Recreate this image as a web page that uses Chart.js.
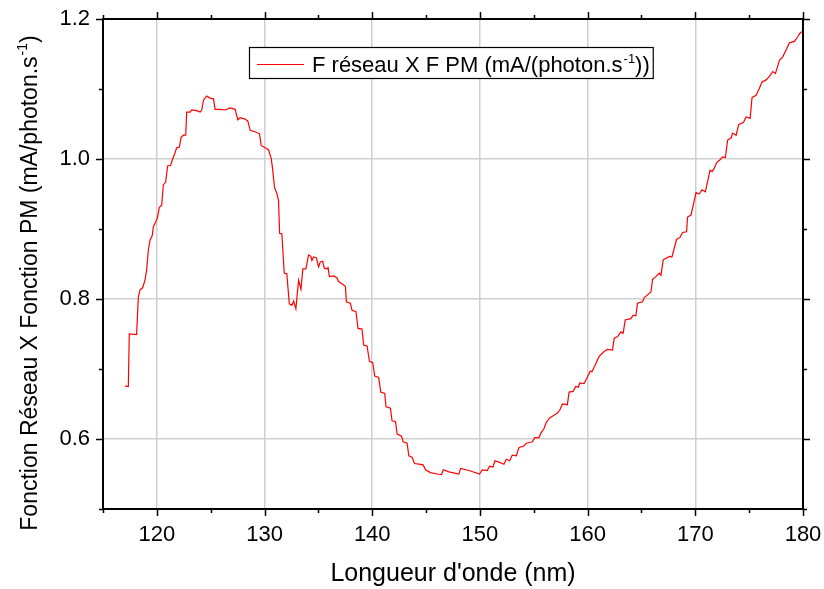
<!DOCTYPE html>
<html>
<head>
  <meta charset="utf-8">
  <title>Fonction Réseau X Fonction PM</title>
  <script src="https://cdn.jsdelivr.net/npm/chart.js"></script>
  <style>
    html, body { margin: 0; padding: 0; background: #fff; }
    #wrap { width: 824px; height: 589px; }
  </style>
</head>
<body>
  <div id="wrap"><canvas id="resp"></canvas></div>
  <script>
    const FONT = "'Liberation Sans', Arial, sans-serif";

    // wavelength (nm) and grating x PM response (mA/(photon.s-1))
    const wavelength = [
      117.04,117.35,117.44,118.12,118.28,118.44,118.68,118.90,119.05,119.21,119.37,119.58,119.67,119.89,120.07,120.23,
      120.45,120.60,120.82,121.00,121.28,121.44,121.69,121.84,122.09,122.25,122.47,122.68,122.77,123.09,123.24,123.70,
      124.02,124.17,124.33,124.63,124.95,125.26,125.41,125.88,126.34,126.81,127.27,127.52,127.74,128.20,128.45,128.67,
      129.13,129.53,129.69,130.07,130.37,130.62,130.74,130.93,131.14,131.30,131.40,131.61,131.83,132.07,132.30,132.54,
      132.70,132.91,133.16,133.38,133.56,133.84,134.09,134.31,134.40,134.56,134.81,135.02,135.18,135.40,135.55,135.80,
      135.89,136.02,136.42,136.73,136.88,137.26,137.51,137.60,137.97,138.12,138.49,138.68,139.05,139.21,139.52,139.74,
      140.05,140.23,140.60,140.79,141.16,141.28,141.69,141.84,142.16,142.31,142.72,142.87,143.24,143.40,143.70,143.93,
      144.33,144.73,144.95,145.41,146.03,146.44,146.59,147.12,148.05,148.20,148.98,149.97,150.21,150.68,150.90,151.21,
      151.40,151.77,152.23,152.45,152.76,153.00,153.38,153.63,154.09,154.31,154.62,154.87,155.09,155.49,155.65,155.95,
      156.17,156.48,156.88,157.19,157.41,157.66,158.12,158.28,158.65,158.90,159.14,159.27,159.67,159.83,160.25,160.40,
      160.75,161.07,161.53,
      161.84,162.31,162.47,162.77,163.09,163.30,163.49,164.02,164.23,164.48,164.63,165.10,165.26,165.72,165.88,166.03,
      166.34,166.65,166.81,167.02,167.27,167.58,167.83,168.26,168.58,168.82,169.19,169.28,169.60,169.91,170.07,170.37,
      170.62,170.93,171.37,171.55,171.77,171.98,172.30,172.54,172.79,173.00,173.32,173.47,173.79,174.03,174.25,174.47,
      174.72,175.09,175.27,175.65,175.89,176.20,176.58,176.88,177.19,177.44,177.81,178.12,178.44,178.74,179.21,179.52,
      179.67,179.93
    ];
    const response = [
      0.676,0.675,0.750,0.749,0.803,0.813,0.816,0.827,0.841,0.870,0.884,0.891,0.903,0.910,0.917,0.931,
      0.934,0.963,0.967,0.990,0.991,0.999,1.009,1.016,1.017,1.031,1.034,1.034,1.067,1.067,1.070,1.069,
      1.067,1.070,1.084,1.090,1.087,1.086,1.071,1.071,1.070,1.073,1.071,1.056,1.059,1.057,1.054,1.041,
      1.039,1.036,1.019,1.016,1.013,1.001,0.987,0.959,0.951,0.941,0.894,0.893,0.837,0.836,0.793,0.791,
      0.797,0.786,0.827,0.814,0.843,0.843,0.863,0.861,0.855,0.860,0.859,0.846,0.853,0.854,0.844,0.843,
      0.846,0.832,0.833,0.830,0.825,0.821,0.818,0.796,0.794,0.784,0.782,0.758,0.757,0.734,0.733,0.711,
      0.709,0.690,0.688,0.667,0.665,0.646,0.644,0.626,0.625,0.607,0.604,0.596,0.594,0.576,0.574,0.565,
      0.564,0.563,0.556,0.552,0.550,0.549,0.556,0.553,0.550,0.558,0.555,0.550,0.556,0.555,0.561,0.560,
      0.569,0.567,0.564,0.571,0.569,0.577,0.576,0.588,0.590,0.594,0.595,0.596,0.602,0.602,0.608,0.615,
      0.624,0.630,0.634,0.637,0.641,0.650,0.649,0.667,0.668,0.675,0.674,0.680,0.679,0.684,0.697,0.696,
      0.707,0.718,0.725,
      0.728,0.727,0.744,0.746,0.753,0.751,0.770,0.772,0.777,0.776,0.794,0.796,0.802,0.808,0.810,0.828,
      0.832,0.837,0.834,0.856,0.858,0.861,0.860,0.885,0.888,0.895,0.896,0.917,0.920,0.941,0.952,0.950,
      0.956,0.953,0.984,0.982,0.987,0.995,0.999,1.003,1.002,1.027,1.030,1.037,1.034,1.049,1.051,1.052,
      1.060,1.058,1.088,1.091,1.099,1.110,1.113,1.118,1.125,1.122,1.141,1.146,1.156,1.166,1.168,1.175,
      1.179,1.182
    ];

    const xTicks = [120, 130, 140, 150, 160, 170, 180];
    const xMinor = [115, 125, 135, 145, 155, 165, 175];
    const yTicks = [0.6, 0.8, 1.0, 1.2];
    const yMinor = [0.5, 0.7, 0.9, 1.1];

    const xTitle = "Longueur d'onde (nm)";
    const yTitle = ["Fonction Réseau X Fonction PM (mA/photon.s", "-1", ")"];
    const seriesLabel = ["F réseau X F PM (mA/(photon.s", "-1", "))"];

    // text with a superscript piece: [before, sup, after]
    function supWidth(ctx, parts, size) {
      ctx.font = size + "px " + FONT;
      const a = ctx.measureText(parts[0]).width;
      const c = ctx.measureText(parts[2]).width;
      ctx.font = Math.round(size * 0.6) + "px " + FONT;
      const b = ctx.measureText(parts[1]).width;
      return a + b + c + 1;
    }
    function supText(ctx, parts, x, y, size) {
      ctx.textAlign = "left";
      ctx.textBaseline = "alphabetic";
      ctx.font = size + "px " + FONT;
      ctx.fillText(parts[0], x, y);
      x += ctx.measureText(parts[0]).width + 1;
      ctx.font = Math.round(size * 0.6) + "px " + FONT;
      ctx.fillText(parts[1], x, y - size * 0.42);
      x += ctx.measureText(parts[1]).width;
      ctx.font = size + "px " + FONT;
      ctx.fillText(parts[2], x, y);
    }

    const framePlugin = {
      id: "frame",
      afterDraw(chart) {
        const ctx = chart.ctx;
        const a = chart.chartArea;
        const xs = chart.scales.x, ys = chart.scales.y;
        ctx.save();
        ctx.strokeStyle = "#000";
        ctx.fillStyle = "#000";
        ctx.lineWidth = 2;
        ctx.strokeRect(a.left, a.top, a.right - a.left, a.bottom - a.top);

        // tick marks, pointing outwards on all four sides
        ctx.lineWidth = 1.5;
        ctx.beginPath();
        const xt = (v, len) => {
          const p = Math.round(xs.getPixelForValue(v)) + 0.5;
          ctx.moveTo(p, a.bottom); ctx.lineTo(p, a.bottom + len);
          ctx.moveTo(p, a.top); ctx.lineTo(p, a.top - len);
        };
        const yt = (v, len) => {
          const p = Math.round(ys.getPixelForValue(v)) + 0.5;
          ctx.moveTo(a.left, p); ctx.lineTo(a.left - len, p);
          ctx.moveTo(a.right, p); ctx.lineTo(a.right + len, p);
        };
        xTicks.forEach(v => xt(v, 7));
        xMinor.forEach(v => xt(v, 4));
        yTicks.forEach(v => yt(v, 7));
        yMinor.forEach(v => yt(v, 4));
        ctx.stroke();

        // x axis title
        ctx.font = "25px " + FONT;
        ctx.textAlign = "center";
        ctx.textBaseline = "alphabetic";
        ctx.fillText(xTitle, 453, 581);

        // y axis title, rotated
        ctx.save();
        ctx.translate(37, 283);
        ctx.rotate(-Math.PI / 2);
        const yw = supWidth(ctx, yTitle, 23);
        supText(ctx, yTitle, -yw / 2, 0, 23);
        ctx.restore();

        // legend box
        const lx = 249, ly = 47, size = 22;
        const tw = supWidth(ctx, seriesLabel, size);
        const bw = 63 + tw + 3, bh = 31;
        ctx.fillStyle = "#fff";
        ctx.fillRect(lx, ly, bw, bh);
        ctx.lineWidth = 1.2;
        ctx.strokeStyle = "#000";
        ctx.strokeRect(lx + 0.5, ly + 0.5, bw, bh);
        ctx.strokeStyle = "#ff0000";
        ctx.lineWidth = 1.2;
        ctx.beginPath();
        ctx.moveTo(lx + 8, ly + 17.5);
        ctx.lineTo(lx + 55, ly + 17.5);
        ctx.stroke();
        ctx.fillStyle = "#000";
        supText(ctx, seriesLabel, lx + 63, ly + 25, size);
        ctx.restore();
      }
    };

    new Chart(document.getElementById("resp"), {
      type: "line",
      data: {
        datasets: [{
          label: "F réseau X F PM",
          data: wavelength.map((w, i) => ({ x: w, y: response[i] })),
          borderColor: "#ff0000",
          borderWidth: 1.2,
          pointRadius: 0,
          tension: 0,
          fill: false
        }]
      },
      options: {
        responsive: true,
        maintainAspectRatio: false,
        animation: false,
        layout: { padding: { top: 19, right: 21, left: 0, bottom: 0 } },
        plugins: { legend: { display: false }, tooltip: { enabled: false } },
        scales: {
          x: {
            type: "linear",
            min: 115,
            max: 180,
            afterBuildTicks: s => { s.ticks = xTicks.map(v => ({ value: v })); },
            afterFit: s => { s.height = 80; s.paddingLeft = 0; s.paddingRight = 0; },
            border: { display: false },
            grid: { color: "#cfcfcf", lineWidth: 1.5, drawTicks: false },
            ticks: {
              padding: 13,
              color: "#000",
              font: { family: FONT, size: 22 },
              callback: v => String(v)
            }
          },
          y: {
            min: 0.5,
            max: 1.2,
            afterBuildTicks: s => { s.ticks = yTicks.map(v => ({ value: v })); },
            afterFit: s => { s.width = 103; s.paddingTop = 0; s.paddingBottom = 0; },
            border: { display: false },
            grid: { color: "#cfcfcf", lineWidth: 1.5, drawTicks: false },
            ticks: {
              padding: 13,
              color: "#000",
              font: { family: FONT, size: 22 },
              callback: v => v.toFixed(1)
            }
          }
        }
      },
      plugins: [framePlugin]
    });
  </script>
</body>
</html>
